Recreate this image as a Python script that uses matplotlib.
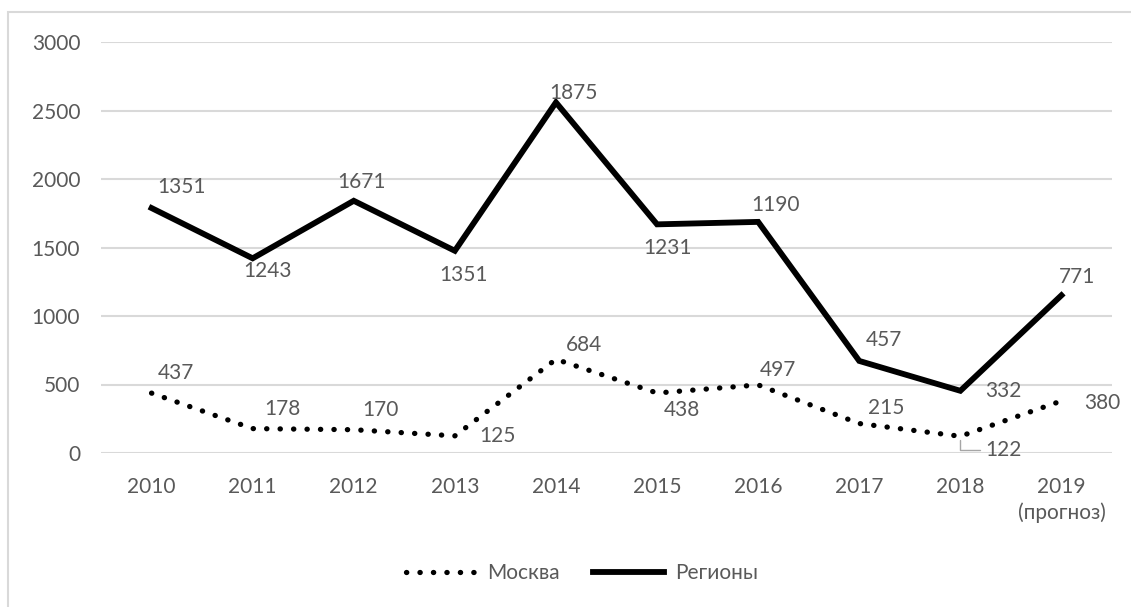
import matplotlib
matplotlib.use('Agg')
import matplotlib.pyplot as plt
from matplotlib.patches import Rectangle

plt.rcParams['font.family'] = ['Lato', 'DejaVu Sans']

# data
years = ['2010', '2011', '2012', '2013', '2014', '2015', '2016', '2017', '2018',
         '2019\n(прогноз)']
moscow = [437, 178, 170, 125, 684, 438, 497, 215, 122, 380]
regions = [1351, 1243, 1671, 1351, 1875, 1231, 1190, 457, 332, 771]

# stacked line: regions drawn on top of moscow
regions_total = [m + r for m, r in zip(moscow, regions)]

# label offsets in pixels (dx, dy), found by eye
moscow_off = [(24, 20), (30, 20), (27, 20), (43, 0), (28, 14),
              (25, -17), (20, 15), (27, 16), (43, -14), (41, -2)]
regions_off = [(30, 21), (15, -13), (8, 19), (9, -24), (18, 9),
               (10, -24), (17, 17), (25, 21), (43, 0), (16, 18)]

grey = '#595959'
fs = 15

fig = plt.figure(figsize=(11.31, 6.07), dpi=100)
ax = fig.add_axes([101 / 1131, 1 - 453 / 607, 1011 / 1131, 411 / 607])

x = list(range(len(years)))
ax.plot(x, moscow, color='black', lw=3.8, linestyle=(0, (0.05, 2.5)),
        dash_capstyle='round', label='Москва', zorder=3)
ax.plot(x, regions_total, color='black', lw=4.2, solid_joinstyle='miter',
        label='Регионы', zorder=3)

for i in x:
    dx, dy = moscow_off[i]
    if i == 8:
        ax.annotate(str(moscow[i]), (i, moscow[i]), xytext=(dx, dy),
                    textcoords='offset pixels', ha='center', va='center',
                    fontsize=fs, color=grey,
                    arrowprops=dict(arrowstyle='-', color='#a6a6a6', lw=1,
                                    shrinkA=2, shrinkB=3,
                                    connectionstyle='angle,angleA=180,angleB=90,rad=0'))
    else:
        ax.annotate(str(moscow[i]), (i, moscow[i]), xytext=(dx, dy),
                    textcoords='offset pixels', ha='center', va='center',
                    fontsize=fs, color=grey)
    dx, dy = regions_off[i]
    ax.annotate(str(regions[i]), (i, regions_total[i]), xytext=(dx, dy),
                textcoords='offset pixels', ha='center', va='center',
                fontsize=fs, color=grey)

ax.set_xlim(-0.5, len(years) - 0.5)
ax.set_ylim(0, 3000)
ax.set_yticks(range(0, 3001, 500))
ax.set_xticks(x)
ax.set_xticklabels(years, linespacing=1.35)
ax.yaxis.grid(True, color='#d9d9d9', lw=1.5)
ax.set_axisbelow(True)
for s in ax.spines.values():
    s.set_visible(False)
ax.tick_params(length=0, labelsize=fs, labelcolor=grey)
ax.tick_params(axis='x', pad=17)
ax.tick_params(axis='y', pad=15)

leg = fig.legend(loc='center', bbox_to_anchor=(582 / 1131, 1 - 573 / 607),
                 ncol=2, frameon=False, fontsize=fs, handlelength=3.4,
                 columnspacing=1.6, handletextpad=0.5)
for t in leg.get_texts():
    t.set_color(grey)

# outer chart frame (cut at right and bottom)
fig.add_artist(Rectangle((8 / 1131, -0.1), 2, 1.1 - 12 / 607,
                         transform=fig.transFigure, fill=False,
                         ec='#d9d9d9', lw=1.5))

plt.savefig('out.png', dpi=100)
